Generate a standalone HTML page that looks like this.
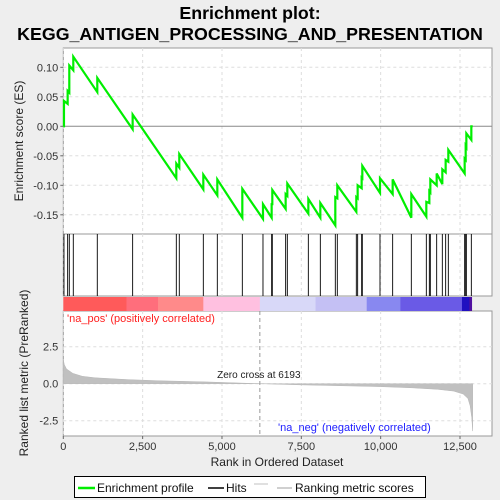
<!DOCTYPE html>
<html><head><meta charset="utf-8"><style>
body{margin:0;background:#eeeeee;}
svg{display:block;font-family:"Liberation Sans",sans-serif;}
</style></head><body>
<svg id="c" width="500" height="500" xmlns="http://www.w3.org/2000/svg">
<text x="250" y="19" text-anchor="middle" font-size="17.8" font-weight="bold" fill="#000">Enrichment plot:</text>
<text x="250" y="40" text-anchor="middle" font-size="17.8" font-weight="bold" fill="#000">KEGG_ANTIGEN_PROCESSING_AND_PRESENTATION</text>
</svg>
<script>
const hitRanks=[21,137,189,315,1071,2185,3561,3655,4412,4853,5641,6292,6565,6586,7006,7059,7721,8099,8571,8634,9233,9275,9401,9422,9979,10378,10966,11439,11534,11565,11765,11943,12048,12132,12647,12679,12700,12857];
const esBefore=[0,0.038,0.057,0.095,0.058,-0.005,-0.088,-0.07,-0.107,-0.117,-0.155,-0.157,-0.155,-0.132,-0.14,-0.118,-0.148,-0.155,-0.168,-0.122,-0.145,-0.122,-0.105,-0.088,-0.113,-0.115,-0.155,-0.153,-0.13,-0.112,-0.1,-0.098,-0.078,-0.06,-0.08,-0.057,-0.035,-0.023];
const esAfter=[0.043,0.06,0.103,0.118,0.082,0.02,-0.063,-0.047,-0.082,-0.09,-0.106,-0.132,-0.132,-0.108,-0.115,-0.097,-0.123,-0.13,-0.12,-0.1,-0.12,-0.1,-0.087,-0.067,-0.088,-0.09,-0.115,-0.128,-0.11,-0.09,-0.08,-0.073,-0.057,-0.04,-0.055,-0.033,-0.012,0.0];
const metricRanks=[0,30,100,300,600,1000,2000,3000,4500,6193,7500,9000,10000,11000,11800,12300,12600,12750,12820,12870,12900];
const metricValues=[1.65,1.3,1.0,0.7,0.5,0.4,0.28,0.2,0.12,0,-0.08,-0.15,-0.2,-0.28,-0.38,-0.5,-0.7,-1.0,-1.5,-2.3,-3.2];
const esTicks=[0.10,0.05,0.00,-0.05,-0.10,-0.15];
const esTickLabels=["0.10","0.05","0.00","-0.05","-0.10","-0.15"];
const metricTicks=[2.5,0,-2.5];
const metricTickLabels=["2.5","0.0","-2.5"];
const xTicks=[0,2500,5000,7500,10000,12500];
const xTickLabels=["0","2,500","5,000","7,500","10,000","12,500"];
const barStops=[0,1992,2984,4412,6193,7948,9560,10622,12562,12794,12870];
const barColors=["#ff5a5a","#ff6e7c","#ff8a8a","#ffc0e0","#d8d8f8","#c4c0f4","#8888f0","#6a5ae6","#2010c0","#5010a0"];
const NMAX=12900, zeroCross=6193;

const L=63.3,R=492;
const X=r=>L+r*(460-L)/12500;
const Yes=v=>126.3-v*(59/0.10);
const Ym=v=>383.7-v*(37/2.5);
const NS="http://www.w3.org/2000/svg";
const svg=document.getElementById('c');
function el(t,a,txt){const e=document.createElementNS(NS,t);for(const k in a)e.setAttribute(k,a[k]);if(txt!==undefined)e.textContent=txt;svg.appendChild(e);return e;}

let p=el('rect',{x:L,y:48,width:R-L,height:186,fill:'#fff',stroke:'#999'});


p=el('rect',{x:L,y:234,width:R-L,height:62,fill:'#fff',stroke:'#999'});


p=el('rect',{x:L,y:311,width:R-L,height:125,fill:'#fff',stroke:'#999'});



xTicks.forEach(t=>{
 [[48,234],[234,296],[311,436]].forEach(s=>{
  const g=el('line',{x1:X(t),x2:X(t),y1:s[0],y2:s[1],stroke:'#ddd','stroke-dasharray':'3,3'});
  
  
 });
});
esTicks.forEach((t,i)=>{
 const g=el('line',{x1:L,x2:R,y1:Yes(t),y2:Yes(t),stroke:t===0?'#888':'#ddd','stroke-dasharray':t===0?'':'3,3'});
 
 
 const tl=el('text',{x:L-5,y:Yes(t)+4,'text-anchor':'end','font-size':11,fill:'#333'},esTickLabels[i]);
 
 
 el('line',{x1:L-3,x2:L,y1:Yes(t),y2:Yes(t),stroke:'#666'});
});
metricTicks.forEach((t,i)=>{
 const g=el('line',{x1:L,x2:R,y1:Ym(t),y2:Ym(t),stroke:'#ddd','stroke-dasharray':'3,3'});
 
 
 const tl=el('text',{x:L-5,y:Ym(t)+4,'text-anchor':'end','font-size':11,fill:'#333'},metricTickLabels[i]);
 
 
});
xTicks.forEach((t,i)=>{
 el('line',{x1:X(t),x2:X(t),y1:436,y2:439,stroke:'#666'});
 const tl=el('text',{x:X(t),y:450,'text-anchor':'middle','font-size':11,fill:'#333'},xTickLabels[i]);
 
 
});

let pts=[[X(0),Yes(0)]];
hitRanks.forEach((r,i)=>{pts.push([X(r),Yes(esBefore[i])]);pts.push([X(r),Yes(esAfter[i])]);});
pts.push([X(NMAX),Yes(0)]);
const es=el('polyline',{points:pts.map(q=>q.join(',')).join(' '),fill:'none',stroke:'#00ee00','stroke-width':2.2});



hitRanks.forEach(r=>{
 const h=el('line',{x1:X(r),x2:X(r),y1:234,y2:296,stroke:'#000','stroke-width':0.9});
 
 
});

barColors.forEach((c,i)=>{
 const b=el('rect',{x:X(barStops[i]),y:297,width:X(barStops[i+1])-X(barStops[i])+0.3,height:14,fill:c});
 
 
});

let mp=[[X(metricRanks[0]),Ym(0)]];
metricRanks.forEach((r,i)=>mp.push([X(r),Ym(metricValues[i])]));
mp.push([X(metricRanks[metricRanks.length-1]),Ym(0)]);
const ma=el('polygon',{points:mp.map(q=>q.join(',')).join(' '),fill:'#c0c0c0',stroke:'#b8b8b8','stroke-width':0.5});



const zl=el('line',{x1:X(zeroCross),x2:X(zeroCross),y1:311,y2:436,stroke:'#999','stroke-dasharray':'4,3'});


let t=el('text',{x:X(zeroCross)-1,y:378,'text-anchor':'middle','font-size':10,fill:'#222'},'Zero cross at 6193');


t=el('text',{x:67,y:322,'font-size':11,fill:'#ff2020'},"'na_pos' (positively correlated)");


t=el('text',{x:278,y:431,'font-size':11,fill:'#2020ff'},"'na_neg' (negatively correlated)");



t=el('text',{x:0,y:0,'font-size':12,fill:'#222','text-anchor':'middle',transform:'translate(23,141) rotate(-90)'},'Enrichment score (ES)');


t=el('text',{x:0,y:0,'font-size':12,fill:'#222','text-anchor':'middle',transform:'translate(28,373) rotate(-90)'},'Ranked list metric (PreRanked)');


t=el('text',{x:277,y:466,'font-size':12,fill:'#222','text-anchor':'middle'},'Rank in Ordered Dataset');



const lg=el('rect',{x:74.5,y:476.5,width:351,height:21,fill:'#fff',stroke:'#000'});


el('line',{x1:78,x2:95,y1:488,y2:488,stroke:'#00ee00','stroke-width':2.5});
t=el('text',{x:97,y:492,'font-size':12,fill:'#111'},'Enrichment profile');


el('line',{x1:208,x2:224,y1:488,y2:488,stroke:'#000','stroke-width':1.5});
t=el('text',{x:226,y:492,'font-size':12,fill:'#111'},'Hits');


el('line',{x1:254,x2:268,y1:484,y2:484,stroke:'#c0c0c0','stroke-width':1});
el('line',{x1:277,x2:292,y1:488,y2:488,stroke:'#c0c0c0','stroke-width':1.5});
t=el('text',{x:295,y:492,'font-size':12,fill:'#111'},'Ranking metric scores');


</script>
</body></html>
